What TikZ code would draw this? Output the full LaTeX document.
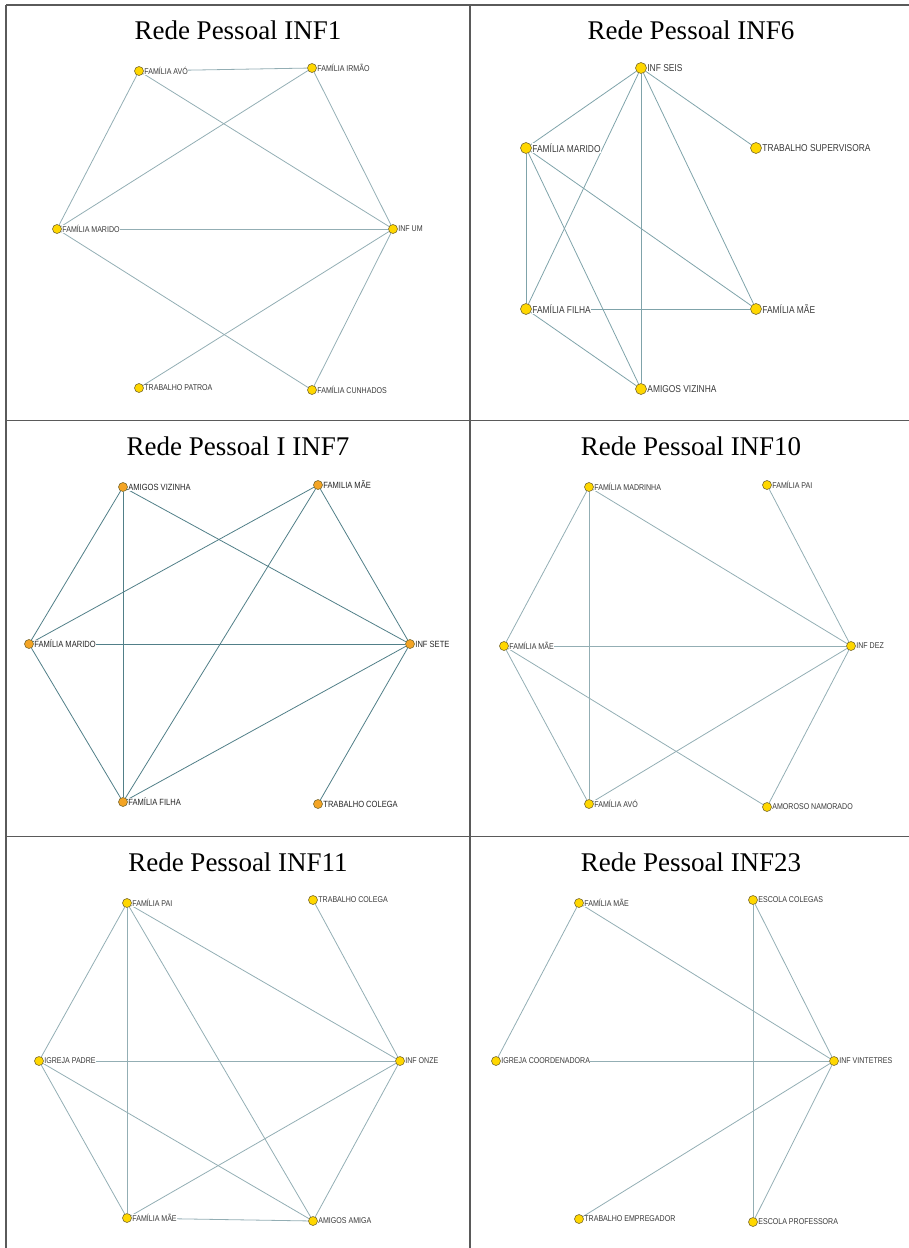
\documentclass[tikz,border=0pt]{standalone}
\usepackage{fontspec}
\setmainfont{Liberation Serif}
\newfontfamily\rotulo[FakeStretch=0.84]{Liberation Sans}
\usetikzlibrary{backgrounds}

\definecolor{amarelo}{HTML}{FFD700}
\definecolor{laranja}{HTML}{F4A424}
\definecolor{contorno}{HTML}{7A6A30}
\definecolor{aresta}{HTML}{93AEB4}
\definecolor{arestamed}{HTML}{7FA3AA}
\definecolor{arestaesc}{HTML}{517F88}
\definecolor{grade}{HTML}{5A5A5A}
\definecolor{texto}{HTML}{3A3A3A}

\tikzset{
	ponto/.style={circle, draw=contorno, fill=amarelo, line width=0.6pt, inner sep=0pt, minimum size=9pt},
	pontog/.style={ponto, minimum size=11pt},
	pontol/.style={ponto, fill=laranja},
	rot/.style={font=\rotulo\fontsize{8.4}{9}\selectfont, text=texto, fill=white, inner sep=0.4pt},
	rotg/.style={rot, font=\rotulo\fontsize{10}{11}\selectfont},
	rotm/.style={rot, font=\rotulo\fontsize{9}{10}\selectfont, text=black!85},
	titulo/.style={font=\fontsize{27}{30}\selectfont, anchor=base, inner sep=0pt},
	liga/.style={draw=aresta, line width=0.8pt},
}

\begin{document}
\begin{tikzpicture}[x=1pt, y=-1pt]
		\useasboundingbox (0,0) rectangle (909,1248);
		
		%%%%% TABELA %%%%%
		\draw[grade, line width=1.8pt] (6,5) -- (909,5);
		\draw[grade, line width=1.8pt] (6,5) -- (6,1248);
		\draw[grade, line width=1.8pt] (470,5) -- (470,1248);
		\draw[grade, line width=1.8pt] (6,420.5) -- (909,420.5);
		\draw[grade, line width=1.8pt] (6,836.5) -- (909,836.5);
		
		\node[titulo] (t1) at (238,39) {Rede Pessoal INF1};
		\node[titulo] (t6) at (691,39) {Rede Pessoal INF6};
		\node[titulo] (t7) at (238,455) {Rede Pessoal I INF7};
		\node[titulo] (t10) at (691,455) {Rede Pessoal INF10};
		\node[titulo] (t11) at (238,871) {Rede Pessoal INF11};
		\node[titulo] (t23) at (691,871) {Rede Pessoal INF23};
		
		%%%%% INF1 %%%%%
		\node[ponto, label={[rot]right:FAMÍLIA AVÓ}] (p1avo) at (139,71) {};
		\node[ponto, label={[rot]right:FAMÍLIA IRMÃO}] (p1irmao) at (312,68) {};
		\node[ponto, label={[rot]right:FAMÍLIA MARIDO}] (p1marido) at (57,229) {};
		\node[ponto, label={[rot]right:INF UM}] (p1inf) at (393,229) {};
		\node[ponto, label={[rot]right:TRABALHO PATROA}] (p1patroa) at (139,388) {};
		\node[ponto, label={[rot]right:FAMÍLIA CUNHADOS}] (p1cunhados) at (312,390) {};
		
		\begin{scope}[on background layer]
		\draw[liga] (p1avo) -- (p1irmao);
		\draw[liga] (p1avo) -- (p1marido);
		\draw[liga] (p1avo) -- (p1inf);
		\draw[liga] (p1irmao) -- (p1marido);
		\draw[liga] (p1irmao) -- (p1inf);
		\draw[liga] (p1marido) -- (p1inf);
		\draw[liga] (p1marido) -- (p1cunhados);
		\draw[liga] (p1inf) -- (p1patroa);
		\draw[liga] (p1inf) -- (p1cunhados);
		\end{scope}
		
		%%%%% INF6 %%%%%
		\node[pontog, label={[rotg]right:INF SEIS}] (p6inf) at (641,68) {};
		\node[pontog, label={[rotg]right:FAMÍLIA MARIDO}] (p6marido) at (526,148) {};
		\node[pontog, label={[rotg]right:TRABALHO SUPERVISORA}] (p6superv) at (756,148) {};
		\node[pontog, label={[rotg]right:FAMÍLIA FILHA}] (p6filha) at (526,309) {};
		\node[pontog, label={[rotg]right:FAMÍLIA MÃE}] (p6mae) at (756,309) {};
		\node[pontog, label={[rotg]right:AMIGOS VIZINHA}] (p6vizinha) at (641,389) {};
		
		\begin{scope}[on background layer, liga/.append style={draw=arestamed}]
		\draw[liga] (p6inf) -- (p6marido);
		\draw[liga] (p6inf) -- (p6filha);
		\draw[liga] (p6inf) -- (p6vizinha);
		\draw[liga] (p6inf) -- (p6mae);
		\draw[liga] (p6inf) -- (p6superv);
		\draw[liga] (p6marido) -- (p6filha);
		\draw[liga] (p6marido) -- (p6vizinha);
		\draw[liga] (p6marido) -- (p6mae);
		\draw[liga] (p6filha) -- (p6mae);
		\draw[liga] (p6filha) -- (p6vizinha);
		\end{scope}
		
		%%%%% INF7 %%%%%
		\node[pontol, label={[rotm]right:AMIGOS VIZINHA}] (p7vizinha) at (123,487) {};
		\node[pontol, label={[rotm]right:FAMILIA MÃE}] (p7mae) at (318,485) {};
		\node[pontol, label={[rotm]right:FAMÍLIA MARIDO}] (p7marido) at (29,644) {};
		\node[pontol, label={[rotm]right:INF SETE}] (p7inf) at (410,644) {};
		\node[pontol, label={[rotm]right:FAMÍLIA FILHA}] (p7filha) at (123,802) {};
		\node[pontol, label={[rotm]right:TRABALHO COLEGA}] (p7colega) at (318,804) {};
		
		\begin{scope}[on background layer, liga/.append style={draw=arestaesc}]
		\draw[liga] (p7vizinha) -- (p7marido);
		\draw[liga] (p7vizinha) -- (p7filha);
		\draw[liga] (p7vizinha) -- (p7inf);
		\draw[liga] (p7mae) -- (p7marido);
		\draw[liga] (p7mae) -- (p7filha);
		\draw[liga] (p7mae) -- (p7inf);
		\draw[liga] (p7marido) -- (p7inf);
		\draw[liga] (p7marido) -- (p7filha);
		\draw[liga] (p7filha) -- (p7inf);
		\draw[liga] (p7inf) -- (p7colega);
		\end{scope}
		
		%%%%% INF10 %%%%%
		\node[ponto, label={[rot]right:FAMÍLIA MADRINHA}] (p10madrinha) at (589,487) {};
		\node[ponto, label={[rot]right:FAMÍLIA PAI}] (p10pai) at (767,485) {};
		\node[ponto, label={[rot]right:FAMÍLIA MÃE}] (p10mae) at (504,646) {};
		\node[ponto, label={[rot]right:INF DEZ}] (p10inf) at (851,646) {};
		\node[ponto, label={[rot]right:FAMÍLIA AVÓ}] (p10avo) at (589,804) {};
		\node[ponto, label={[rot]right:AMOROSO NAMORADO}] (p10namorado) at (767,807) {};
		
		\begin{scope}[on background layer]
		\draw[liga] (p10madrinha) -- (p10mae);
		\draw[liga] (p10madrinha) -- (p10avo);
		\draw[liga] (p10madrinha) -- (p10inf);
		\draw[liga] (p10pai) -- (p10inf);
		\draw[liga] (p10mae) -- (p10inf);
		\draw[liga] (p10mae) -- (p10avo);
		\draw[liga] (p10mae) -- (p10namorado);
		\draw[liga] (p10avo) -- (p10inf);
		\draw[liga] (p10inf) -- (p10namorado);
		\end{scope}
		
		%%%%% INF11 %%%%%
		\node[ponto, label={[rot]right:FAMÍLIA PAI}] (p11pai) at (127,903) {};
		\node[ponto, label={[rot]right:TRABALHO COLEGA}] (p11colega) at (313,900) {};
		\node[ponto, label={[rot]right:IGREJA PADRE}] (p11padre) at (39,1061) {};
		\node[ponto, label={[rot]right:INF ONZE}] (p11inf) at (400,1061) {};
		\node[ponto, label={[rot]right:FAMÍLIA MÃE}] (p11mae) at (127,1218) {};
		\node[ponto, label={[rot]right:AMIGOS AMIGA}] (p11amiga) at (313,1221) {};
		
		\begin{scope}[on background layer]
		\draw[liga] (p11pai) -- (p11padre);
		\draw[liga] (p11pai) -- (p11mae);
		\draw[liga] (p11pai) -- (p11amiga);
		\draw[liga] (p11pai) -- (p11inf);
		\draw[liga] (p11colega) -- (p11inf);
		\draw[liga] (p11padre) -- (p11inf);
		\draw[liga] (p11padre) -- (p11mae);
		\draw[liga] (p11padre) -- (p11amiga);
		\draw[liga] (p11mae) -- (p11inf);
		\draw[liga] (p11mae) -- (p11amiga);
		\draw[liga] (p11inf) -- (p11amiga);
		\end{scope}
		
		%%%%% INF23 %%%%%
		\node[ponto, label={[rot]right:FAMÍLIA MÃE}] (p23mae) at (579,903) {};
		\node[ponto, label={[rot]right:ESCOLA COLEGAS}] (p23colegas) at (753,900) {};
		\node[ponto, label={[rot]right:IGREJA COORDENADORA}] (p23coord) at (496,1061) {};
		\node[ponto, label={[rot]right:INF VINTETRES}] (p23inf) at (834,1061) {};
		\node[ponto, label={[rot]right:TRABALHO EMPREGADOR}] (p23empreg) at (579,1219) {};
		\node[ponto, label={[rot]right:ESCOLA PROFESSORA}] (p23prof) at (753,1222) {};
		
		\begin{scope}[on background layer]
		\draw[liga] (p23mae) -- (p23coord);
		\draw[liga] (p23mae) -- (p23inf);
		\draw[liga] (p23colegas) -- (p23inf);
		\draw[liga] (p23colegas) -- (p23prof);
		\draw[liga] (p23coord) -- (p23inf);
		\draw[liga] (p23inf) -- (p23empreg);
		\draw[liga] (p23inf) -- (p23prof);
		\end{scope}
		
		%%%%% END %%%%%
	\end{tikzpicture}
\end{document}
